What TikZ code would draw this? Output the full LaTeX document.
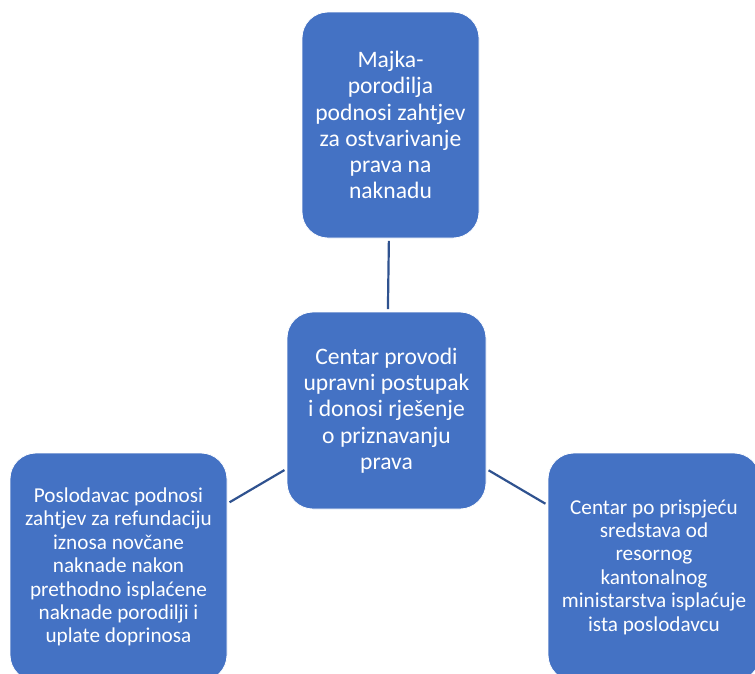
\documentclass[tikz,border=0pt]{standalone}
\usepackage{fontspec}
\setmainfont{Carlito}
\definecolor{boxblue}{HTML}{4472C4}
\definecolor{lineblue}{HTML}{2F528F}
\begin{document}
\begin{tikzpicture}[x=1pt,y=-1pt,
  box/.style={rectangle, rounded corners=26pt, fill=boxblue, draw=white, line width=0.8pt,
    text=white, align=center, inner sep=0pt},
  bigtext/.style={font=\fontsize{23.6}{26.2}\selectfont},
  smalltext/.style={font=\fontsize{21.2}{23.4}\selectfont},
  conn/.style={draw=lineblue, line width=2.2pt, shorten <=2.5pt, shorten >=2.5pt}]
\useasboundingbox (0,0) rectangle (755,673);
\clip (0,0) rectangle (755,673);
\node[box, bigtext, minimum width=177pt, minimum height=226pt] (top) at (390.5,125)
  {Majka-\\porodilja\\podnosi zahtjev\\za ostvarivanje\\prava na\\naknadu};
\node[box, bigtext, minimum width=199pt, minimum height=197pt] (mid) at (386.5,410.5)
  {Centar provodi\\upravni postupak\\i donosi rješenje\\o priznavanju\\prava};
\node[box, smalltext, minimum width=217pt, minimum height=228pt] (left) at (118.5,567)
  {Poslodavac podnosi\\zahtjev za refundaciju\\iznosa novčane\\naknade nakon\\prethodno isplaćene\\naknade porodilji i\\uplate doprinosa};
\node[box, smalltext, minimum width=212pt, minimum height=228pt] (right) at (654,567)
  {Centar po prispjeću\\sredstava od\\resornog\\kantonalnog\\ministarstva isplaćuje\\ista poslodavcu};
\path[conn] (top) -- (mid);
\path[conn] (mid) -- (left);
\path[conn] (mid) -- (right);
\end{tikzpicture}
\end{document}
